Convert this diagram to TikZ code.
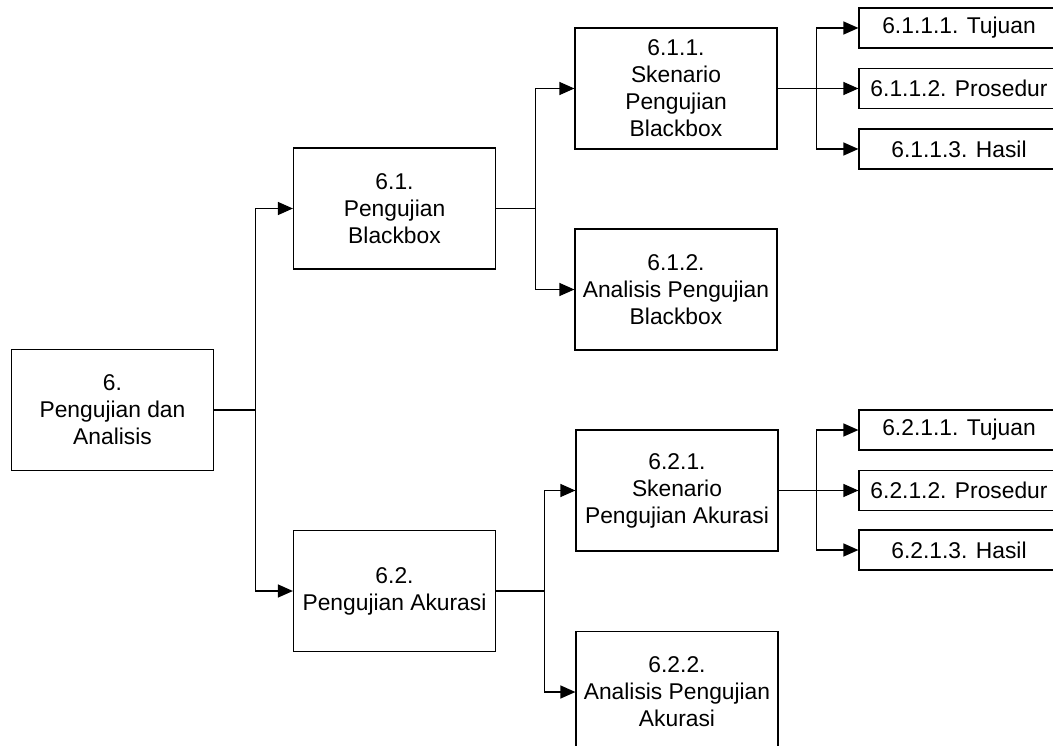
\documentclass[tikz,border=0pt]{standalone}
\usepackage{fontspec}
\setmainfont{Liberation Sans}
\usetikzlibrary{arrows.meta}

\begin{document}
\begin{tikzpicture}[x=1pt, y=-1pt,
        box/.style={draw, line width=1.2pt, minimum width=202pt, minimum height=121pt, inner sep=0pt, align=center, font=\fontsize{22.8}{27}\selectfont},
        leaf/.style={box, minimum width=200pt, minimum height=40pt},
        arr/.style={line width=1.2pt, -{Triangle[length=15pt, width=13pt]}}]
        \useasboundingbox (0,0) rectangle (1053,746);
        \clip (0,0) rectangle (1053,746);

        \node[box] (root) at (112.5,410) {6.\\Pengujian dan\\Analisis};

        \node[box] (b61) at (394.5,208.5) {6.1.\\Pengujian\\Blackbox};
        \node[box] (b62) at (394.5,591) {6.2.\\Pengujian Akurasi};

        \node[box] (b611) at (676,88.5) {6.1.1.\\Skenario\\Pengujian\\Blackbox};
        \node[box] (b612) at (676,289.5) {6.1.2.\\Analisis Pengujian\\Blackbox};
        \node[box] (b621) at (677,490.5) {6.2.1.\\Skenario\\Pengujian Akurasi};
        \node[box] (b622) at (677,692) {6.2.2.\\Analisis Pengujian\\Akurasi};

        \node[leaf] (l6111) at (959,28) {6.1.1.1. Tujuan};
        \node[leaf] (l6112) at (959,88.5) {6.1.1.2. Prosedur};
        \node[leaf] (l6113) at (959,149) {6.1.1.3. Hasil};
        \node[leaf] (l6211) at (959,430) {6.2.1.1. Tujuan};
        \node[leaf] (l6212) at (959,490.5) {6.2.1.2. Prosedur};
        \node[leaf] (l6213) at (959,550) {6.2.1.3. Hasil};

        \draw[arr] (root.east) -- ++(41,0) |- (b61.west);
        \draw[arr] (root.east) -- ++(41,0) |- (b62.west);

        \draw[arr] (b61.east) -- ++(39,0) |- (b611.west);
        \draw[arr] (b61.east) -- ++(39,0) |- (b612.west);
        \draw[arr] (b62.east) -- ++(48,0) |- (b621.west);
        \draw[arr] (b62.east) -- ++(48,0) |- (b622.west);

        \draw[arr] (b611.east) -- ++(39,0) |- (l6111.west);
        \draw[arr] (b611.east) -- (l6112.west);
        \draw[arr] (b611.east) -- ++(39,0) |- (l6113.west);
        \draw[arr] (b621.east) -- ++(38,0) |- (l6211.west);
        \draw[arr] (b621.east) -- (l6212.west);
        \draw[arr] (b621.east) -- ++(38,0) |- (l6213.west);
\end{tikzpicture}
\end{document}
